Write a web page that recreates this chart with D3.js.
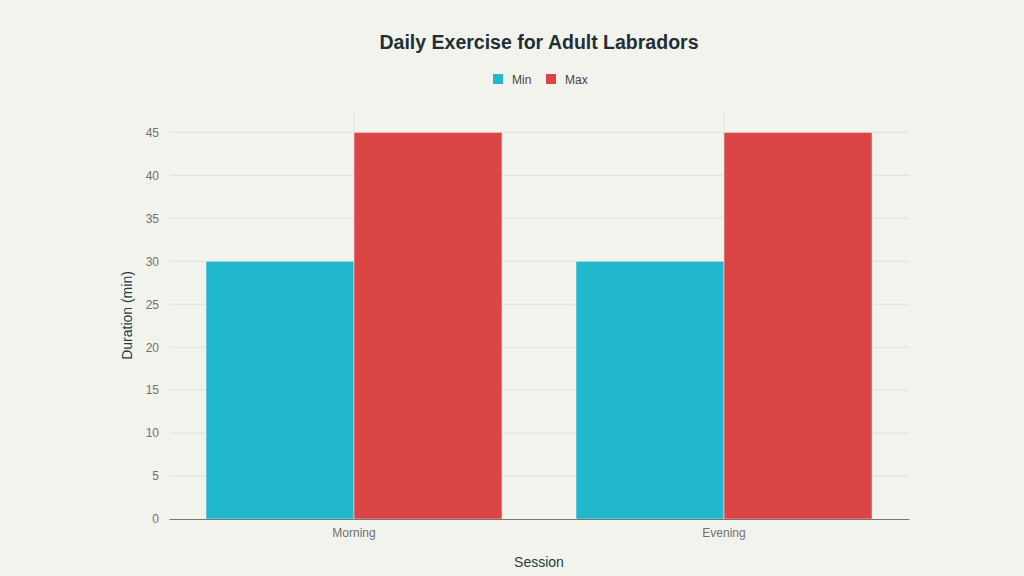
<!DOCTYPE html>
<html><head><meta charset="utf-8">
<script src="https://cdn.jsdelivr.net/npm/d3@7"></script>
<style>
html,body{margin:0;padding:0;background:#f3f3ee;}
svg{display:block;font-family:"Liberation Sans",Arial,sans-serif;}
</style></head>
<body>
<svg id="c" width="1024" height="576"></svg>
<script>
const categories = ["Morning", "Evening"];
const seriesNames = ["Min", "Max"];
const minValues = [30, 30];
const maxValues = [45, 45];
const yTicks = [0, 5, 10, 15, 20, 25, 30, 35, 40, 45];
const colors = ["#21b8cd", "#db4545"];

const svg = d3.select("#c");
const W = 1024, H = 576;
const m = {l:169, r:115, t:112, b:57};
const x = d3.scaleBand().domain(categories).range([m.l, W - m.r]).paddingInner(0.2).paddingOuter(0.1);
const xs = d3.scaleBand().domain(seriesNames).range([0, x.bandwidth()]);
const y = d3.scaleLinear().domain([0, 47.37]).range([H - m.b, m.t]);

svg.append("g").selectAll("line").data(yTicks.filter(d=>d>0)).join("line")
  .attr("x1", m.l).attr("x2", W - m.r)
  .attr("y1", d=>y(d)).attr("y2", d=>y(d))
  .attr("stroke", "#e1e1dc").attr("stroke-width", 1);
svg.append("g").selectAll("line").data(categories).join("line")
  .attr("x1", d=>x(d)+x.bandwidth()/2).attr("x2", d=>x(d)+x.bandwidth()/2)
  .attr("y1", m.t).attr("y2", H - m.b)
  .attr("stroke", "#e1e1dc").attr("stroke-width", 1);

const rows = categories.map((c,i)=>({cat:c, vals:[minValues[i], maxValues[i]]}));
svg.append("g").selectAll("g").data(rows).join("g")
  .attr("transform", d=>`translate(${x(d.cat)},0)`)
  .selectAll("rect").data(d=>d.vals.map((v,j)=>({name:seriesNames[j], v, j}))).join("rect")
  .attr("x", d=>xs(d.name)).attr("width", xs.bandwidth())
  .attr("y", d=>y(d.v)).attr("height", d=>y(0)-y(d.v))
  .attr("fill", d=>colors[d.j])
  .attr("stroke", "#f3f3ee").attr("stroke-width", 0.5);

const yAxis = d3.axisLeft(y).tickValues(yTicks).tickSize(0).tickPadding(8);
const gy = svg.append("g").attr("transform", `translate(${m.l - 2},0)`).call(yAxis);
gy.select(".domain").remove();
gy.selectAll("text").attr("fill", "#707070").attr("font-size", 12);

const xAxis = d3.axisBottom(x).tickSize(0).tickPadding(9);
const gx = svg.append("g").attr("transform", `translate(0,${H - m.b})`).call(xAxis);
gx.select(".domain").attr("stroke", "#777").attr("stroke-width", 1.2);
gx.selectAll("text").attr("fill", "#707070").attr("font-size", 12);

svg.append("text").attr("x", (m.l + W - m.r)/2).attr("y", 49)
  .attr("text-anchor", "middle").attr("font-size", 19.5).attr("font-weight", "bold")
  .attr("fill", "#1e3035").text("Daily Exercise for Adult Labradors");

const leg = svg.append("g").attr("transform", "translate(493,79)");
const items = leg.selectAll("g").data(seriesNames).join("g")
  .attr("transform", (d,i)=>`translate(${i*53},0)`);
items.append("rect").attr("x", 0).attr("y", -5).attr("width", 10).attr("height", 10)
  .attr("fill", (d,i)=>colors[i]);
items.append("text").attr("x", 19).attr("y", 4.5).attr("font-size", 12).attr("fill", "#444").text(d=>d);

svg.append("text").attr("x", (m.l + W - m.r)/2).attr("y", 567)
  .attr("text-anchor", "middle").attr("font-size", 14).attr("fill", "#2a3a3e").text("Session");
svg.append("text").attr("transform", `translate(132,${(m.t + H - m.b)/2}) rotate(-90)`)
  .attr("text-anchor", "middle").attr("font-size", 14).attr("fill", "#2a3a3e").text("Duration (min)");
</script>
</body></html>
